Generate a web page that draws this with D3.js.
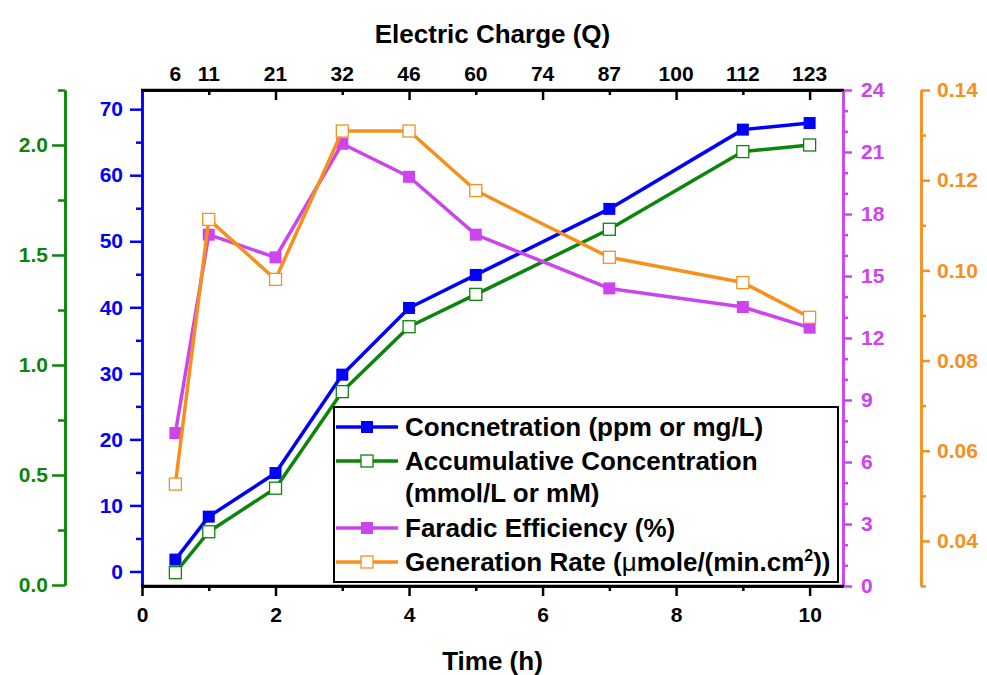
<!DOCTYPE html>
<html>
<head>
<meta charset="utf-8">
<script src="https://cdn.jsdelivr.net/npm/d3@7/dist/d3.min.js"></script>
<style>
  html, body { margin: 0; padding: 0; background: #fff; }
  svg { display: block; font-family: "Liberation Sans", Arial, sans-serif; font-weight: bold; }
</style>
</head>
<body>
<svg id="chart" width="987" height="675"></svg>
<script>
// Sampling times (h) and the measured series
const time = [0.5, 1, 2, 3, 4, 5, 7, 9, 10];
const concentration = [1.8, 8.3, 14.9, 29.8, 39.9, 44.9, 54.9, 66.9, 67.9];        // ppm or mg/L
const accumulative = [0.056, 0.242, 0.44, 0.879, 1.174, 1.321, 1.617, 1.97, 2.0];   // mmol/L
const faradic = [7.4, 17.0, 15.9, 21.4, 19.8, 17.0, 14.4, 13.5, 12.5];               // %
const genRate = [0.0526, 0.1113, 0.098, 0.1309, 0.1309, 0.1177, 0.1029, 0.0973, 0.0896]; // µmole/(min.cm²)

// Top axis: electric charge at each sampling position
const chargePos = [0.5, 1, 2, 3, 4, 5, 6, 7, 8, 9, 10];
const chargeLabels = ["6", "11", "21", "32", "46", "60", "74", "87", "100", "112", "123"];

const timeTicks = [0, 2, 4, 6, 8, 10];
const timeMinor = [1, 3, 5, 7, 9];
const concTicks = [0, 10, 20, 30, 40, 50, 60, 70];
const concMinor = [5, 15, 25, 35, 45, 55, 65];
const accTicks = [0, 0.5, 1.0, 1.5, 2.0];
const accMinor = [0.25, 0.75, 1.25, 1.75, 2.25];
const feTicks = [0, 3, 6, 9, 12, 15, 18, 21, 24];
const feMinor = d3.range(1, 24).filter(v => v % 3 !== 0);
const rateTicks = [0.04, 0.06, 0.08, 0.10, 0.12, 0.14];
const rateMinor = [0.03, 0.05, 0.07, 0.09, 0.11, 0.13];

const colors = {
  blue: "#0000ff",
  green: "#0b850b",
  magenta: "#cc44ee",
  orange: "#f5901c"
};

const plotLeft = 142, plotRight = 843, plotTop = 90, plotBottom = 586;
const svg = d3.select("#chart");

const x = d3.scaleLinear().domain([0, 10.5]).range([plotLeft, plotRight]);
const yConc = d3.scaleLinear().domain([-2.2, 72.9]).range([plotBottom, plotTop]);
const yAcc = d3.scaleLinear().domain([0, 2.25]).range([585, plotTop]);
const yFE = d3.scaleLinear().domain([0, 24]).range([plotBottom, plotTop]);
const yRate = d3.scaleLinear().domain([0.03, 0.14]).range([plotBottom, plotTop]);

function styleAxis(g, color, width, fontSize) {
  g.selectAll("path.domain").attr("stroke", color).attr("stroke-width", width);
  g.selectAll(".tick line").attr("stroke", color).attr("stroke-width", width);
  g.selectAll(".tick text").attr("fill", color).style("font-size", fontSize + "px")
    .style("font-family", "'Liberation Sans', Arial, sans-serif").style("font-weight", "bold");
}

// ---- Bottom time axis ----
const gxMinor = svg.append("g").attr("transform", `translate(0,${plotBottom})`)
  .call(d3.axisBottom(x).tickValues(timeMinor).tickSize(5).tickSizeOuter(0).tickFormat(""));
styleAxis(gxMinor, "#000", 2.5, 20);
const gx = svg.append("g").attr("transform", `translate(0,${plotBottom})`)
  .call(d3.axisBottom(x).tickValues(timeTicks).tickSize(10).tickSizeOuter(0).tickPadding(11));
styleAxis(gx, "#000", 2.5, 21);

// ---- Top charge axis (ticks inward) ----
const gtMinor = svg.append("g").attr("transform", `translate(0,${plotTop})`)
  .call(d3.axisBottom(x).tickValues(timeMinor).tickSize(5).tickSizeOuter(0).tickFormat(""));
styleAxis(gtMinor, "#000", 2.5, 20);
const gt = svg.append("g").attr("transform", `translate(0,${plotTop})`)
  .call(d3.axisBottom(x).tickValues(timeTicks.filter(v => v > 0)).tickSize(10).tickSizeOuter(0).tickFormat(""));
styleAxis(gt, "#000", 2.5, 20);
svg.append("g").selectAll("text").data(chargePos).join("text")
  .attr("x", d => x(d)).attr("y", 81)
  .attr("text-anchor", "middle")
  .style("font-size", "21px").attr("fill", "#000")
  .text((d, i) => chargeLabels[i]);

// ---- Left concentration axis (blue) ----
const gcMinor = svg.append("g").attr("transform", `translate(${plotLeft},0)`)
  .call(d3.axisLeft(yConc).tickValues(concMinor).tickSize(6).tickSizeOuter(0).tickFormat(""));
styleAxis(gcMinor, colors.blue, 2.5, 20);
const gc = svg.append("g").attr("transform", `translate(${plotLeft},0)`)
  .call(d3.axisLeft(yConc).tickValues(concTicks).tickSize(12).tickSizeOuter(0).tickPadding(7));
styleAxis(gc, colors.blue, 2.5, 21);

// ---- Far-left accumulative axis (green) ----
const accX = 65;
const gaMinor = svg.append("g").attr("transform", `translate(${accX},0)`)
  .call(d3.axisLeft(yAcc).tickValues(accMinor).tickSize(7).tickSizeOuter(0).tickFormat(""));
styleAxis(gaMinor, colors.green, 2.5, 20);
const ga = svg.append("g").attr("transform", `translate(${accX},0)`)
  .call(d3.axisLeft(yAcc).tickValues(accTicks).tickSize(13).tickSizeOuter(0).tickPadding(4).tickFormat(d3.format(".1f")));
styleAxis(ga, colors.green, 2.5, 21);

// ---- Right faradic efficiency axis (magenta) ----
const gfMinor = svg.append("g").attr("transform", `translate(${plotRight},0)`)
  .call(d3.axisRight(yFE).tickValues(feMinor).tickSize(5).tickSizeOuter(0).tickFormat(""));
styleAxis(gfMinor, colors.magenta, 2.5, 20);
const gf = svg.append("g").attr("transform", `translate(${plotRight},0)`)
  .call(d3.axisRight(yFE).tickValues(feTicks).tickSize(9).tickSizeOuter(0).tickPadding(9));
styleAxis(gf, colors.magenta, 2.5, 21);

// ---- Far-right generation rate axis (orange) ----
const rateX = 921;
const grMinor = svg.append("g").attr("transform", `translate(${rateX},0)`)
  .call(d3.axisRight(yRate).tickValues(rateMinor).tickSize(5).tickSizeOuter(0).tickFormat(""));
styleAxis(grMinor, colors.orange, 2.5, 20);
const gr = svg.append("g").attr("transform", `translate(${rateX},0)`)
  .call(d3.axisRight(yRate).tickValues(rateTicks).tickSize(9).tickSizeOuter(0).tickPadding(7).tickFormat(d3.format(".2f")));
styleAxis(gr, colors.orange, 2.5, 21);

// Frame lines: top/bottom black, sides carried by the coloured axes
svg.append("line").attr("x1", plotLeft - 1).attr("x2", plotRight + 1).attr("y1", plotTop).attr("y2", plotTop)
  .attr("stroke", "#000").attr("stroke-width", 2.5);
svg.append("line").attr("x1", plotLeft - 1).attr("x2", plotRight + 1).attr("y1", plotBottom).attr("y2", plotBottom)
  .attr("stroke", "#000").attr("stroke-width", 2.5);

// Axis titles
svg.append("text").attr("x", (plotLeft + plotRight) / 2).attr("y", 43).attr("text-anchor", "middle")
  .style("font-size", "26px").attr("fill", "#000").text("Electric Charge (Q)");
svg.append("text").attr("x", (plotLeft + plotRight) / 2).attr("y", 670).attr("text-anchor", "middle")
  .style("font-size", "26px").attr("fill", "#000").text("Time (h)");

// ---- Series ----
const series = [
  { vals: concentration, y: yConc, color: colors.blue, filled: true },
  { vals: accumulative, y: yAcc, color: colors.green, filled: false },
  { vals: faradic, y: yFE, color: colors.magenta, filled: true },
  { vals: genRate, y: yRate, color: colors.orange, filled: false }
];
const ms = 12;
series.forEach(s => {
  const pts = time.map((t, i) => [t, s.vals[i]]);
  svg.append("path").datum(pts)
    .attr("fill", "none").attr("stroke", s.color).attr("stroke-width", 3.5)
    .attr("stroke-linejoin", "round")
    .attr("d", d3.line().x(d => x(d[0])).y(d => s.y(d[1])));
  svg.append("g").selectAll("rect").data(pts).join("rect")
    .attr("x", d => x(d[0]) - ms / 2).attr("y", d => s.y(d[1]) - ms / 2)
    .attr("width", ms).attr("height", ms)
    .attr("fill", s.filled ? s.color : "#fff")
    .attr("stroke", s.filled ? "none" : s.color).attr("stroke-width", 1.3);
});

// ---- Legend ----
const lg = svg.append("g");
lg.append("rect").attr("x", 334).attr("y", 407).attr("width", 504).attr("height", 175)
  .attr("fill", "#fff").attr("stroke", "#000").attr("stroke-width", 2);
const legendRows = [
  { y: 427, color: colors.blue, filled: true, label: "Concnetration (ppm or mg/L)" },
  { y: 461, color: colors.green, filled: false, label: "Accumulative Concentration", extra: "(mmol/L or mM)" },
  { y: 528, color: colors.magenta, filled: true, label: "Faradic Efficiency (%)" },
  { y: 562, color: colors.orange, filled: false, label: "Generation Rate (" }
];
legendRows.forEach(r => {
  lg.append("line").attr("x1", 336).attr("x2", 398).attr("y1", r.y).attr("y2", r.y)
    .attr("stroke", r.color).attr("stroke-width", 3.5);
  lg.append("rect").attr("x", 367 - ms / 2).attr("y", r.y - ms / 2).attr("width", ms).attr("height", ms)
    .attr("fill", r.filled ? r.color : "#fff").attr("stroke", r.filled ? "none" : r.color).attr("stroke-width", 1.3);
  const t = lg.append("text").attr("x", 405).attr("y", r.y + 9)
    .style("font-size", "26px").attr("fill", "#000");
  if (r.label.startsWith("Generation")) {
    t.append("tspan").text("Generation Rate (");
    t.append("tspan").style("font-weight", "normal").text("μ");
    t.append("tspan").text("mole/(min.cm");
    t.append("tspan").attr("dy", -10).style("font-size", "16px").text("2");
    t.append("tspan").attr("dy", 10).text("))");
  } else {
    t.text(r.label);
  }
  if (r.extra) {
    lg.append("text").attr("x", 405).attr("y", r.y + 32 + 9)
      .style("font-size", "26px").attr("fill", "#000").text(r.extra);
  }
});
</script>
</body>
</html>
